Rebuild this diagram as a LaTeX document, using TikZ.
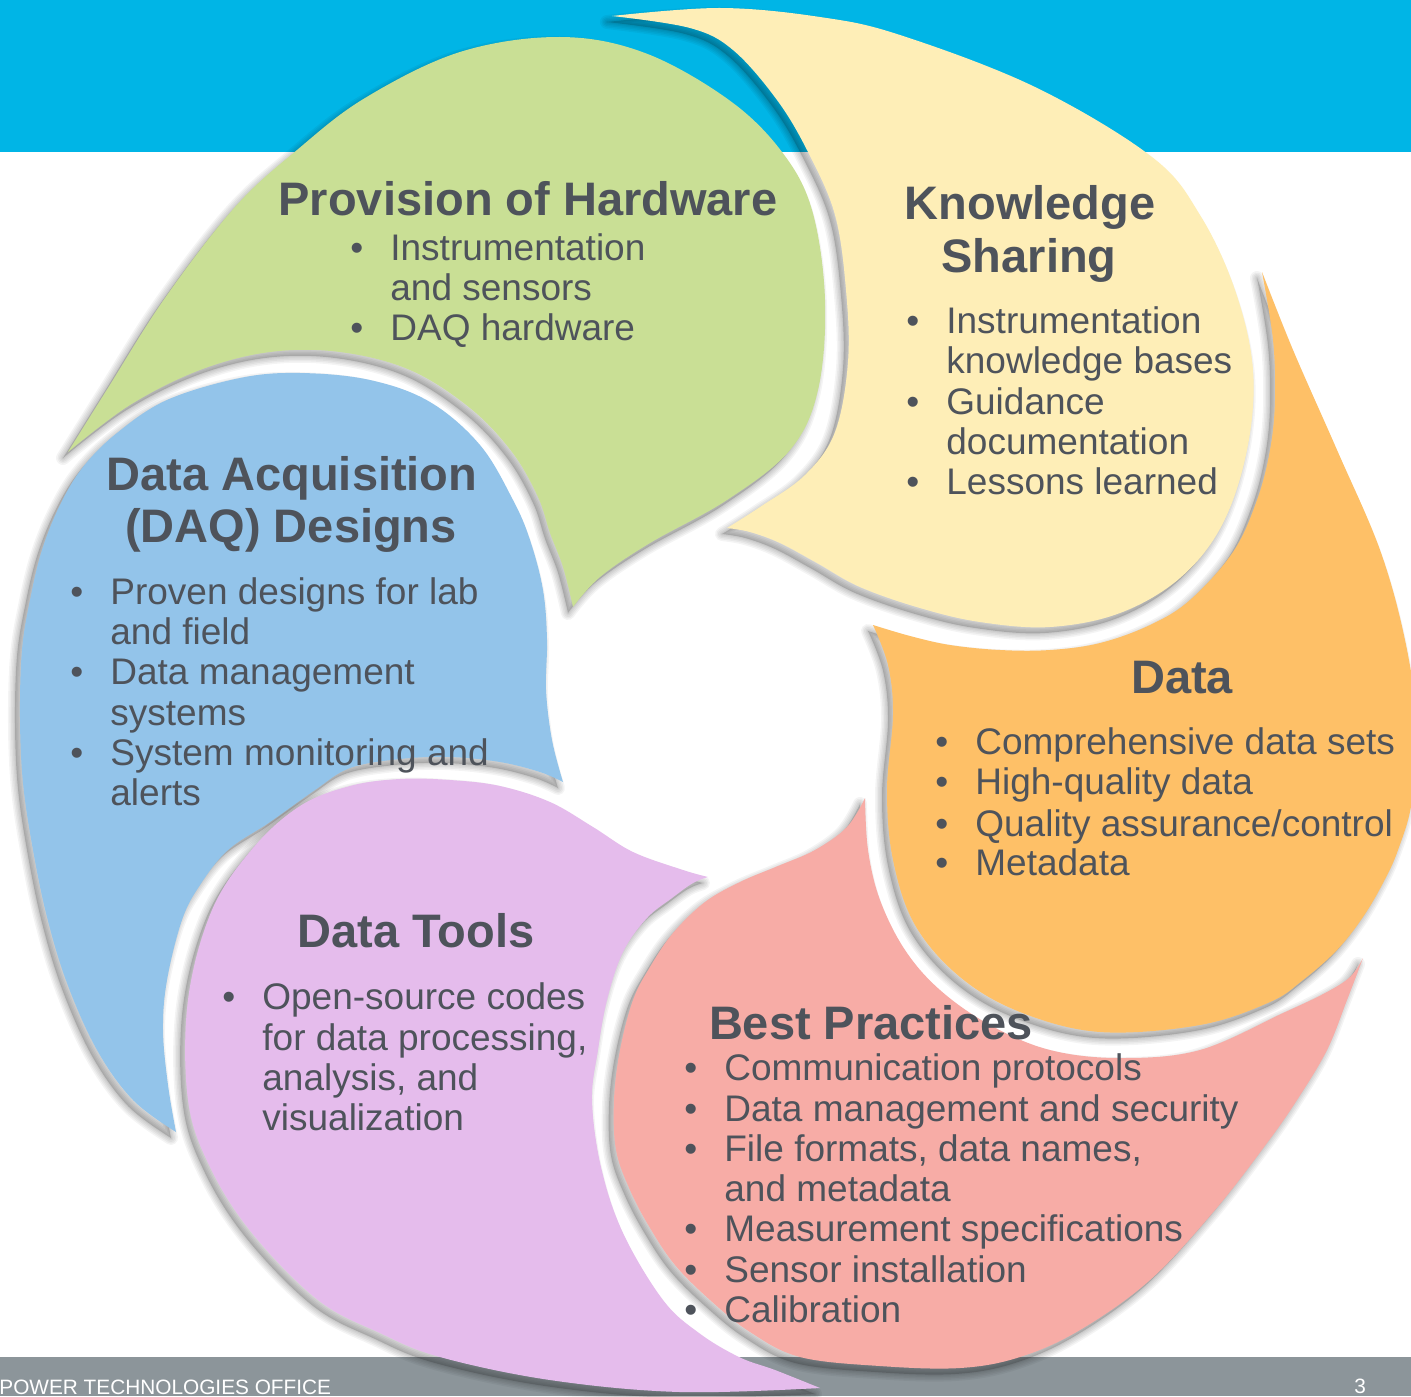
\documentclass[tikz,border=0pt]{standalone}
\usepackage{fontspec}
\setmainfont{Liberation Sans}
\definecolor{band}{HTML}{00B5E6}
\definecolor{foot}{HTML}{8C959A}
\definecolor{cgreen}{HTML}{C9DF95}
\definecolor{cyellow}{HTML}{FEEEB7}
\definecolor{corange}{HTML}{FEC067}
\definecolor{cpink}{HTML}{F7ACA6}
\definecolor{cpurple}{HTML}{E5BCEC}
\definecolor{cblue}{HTML}{93C4EA}
\definecolor{tcol}{HTML}{4E535B}
\newcommand\pGreen{plot[smooth,tension=0.6] coordinates {(68,452) (108,388) (165,298) (235,207) (297,150) (365,98) (460,52) (560,37) (645,53) (729,100) (782,152) (812,210) (825,300) (818,390) (790,450) (727,500) (650,543) (600,577) (573,607)} -- plot[smooth,tension=0.6] coordinates {(573,607) (563,567) (550,533) (538,497) (512,452) (470,408) (410,370) (340,352) (270,352) (200,370) (130,405) (68,452)} -- cycle}
\newcommand\pYellow{plot[smooth,tension=0.6] coordinates {(612,16) (720,8) (820,17) (900,35) (1035,87) (1152,157) (1200,215) (1235,290) (1253,370) (1247,450) (1222,525) (1180,578) (1120,613) (1050,627) (980,622) (920,608) (860,587) (817,563) (780,543) (750,532) (727,528)} -- plot[smooth,tension=0.6] coordinates {(727,528) (760,507) (805,475) (835,432) (848,362) (846,290) (835,215) (808,152) (777,100) (733,50) (690,28) (612,16)} -- cycle}
\newcommand\pOrange{plot[smooth,tension=0.6] coordinates {(1262,272) (1293,350) (1337,450) (1380,550) (1405,640) (1416,720) (1412,800) (1398,850) (1383,883) (1363,917) (1337,950) (1303,980) (1270,1002) (1200,1025) (1100,1032) (1020,1012) (960,977) (915,925) (893,860) (887,790) (893,715) (888,665) (873,625)} -- plot[smooth,tension=0.6] coordinates {(873,625) (910,636) (950,645) (1000,650) (1050,650) (1100,643) (1150,625) (1190,600) (1233,552) (1257,500) (1270,450) (1275,400) (1273,340) (1262,272)} -- cycle}
\newcommand\pPink{plot[smooth,tension=0.6] coordinates {(1363,958) (1347,1000) (1327,1050) (1297,1100) (1267,1143) (1215,1210) (1150,1280) (1080,1330) (1020,1357) (960,1368) (880,1366) (800,1357) (750,1332) (710,1300) (675,1265) (650,1228) (630,1190) (616,1150) (614,1100) (620,1050) (633,1000) (650,967) (673,933) (705,902) (740,882) (778,866) (815,850) (847,827) (865,798)} -- plot[smooth,tension=0.6] coordinates {(865,798) (868,850) (880,900) (905,950) (940,990) (990,1025) (1050,1050) (1120,1058) (1200,1050) (1283,1013) (1325,993) (1350,977) (1363,958)} -- cycle}
\newcommand\pPurple{plot[smooth,tension=0.6] coordinates {(708,877) (683,870) (633,852) (593,827) (550,802) (500,786) (450,780) (400,779) (350,786) (300,806) (253,848) (212,910) (188,1000) (188,1100) (210,1167) (252,1233) (318,1300) (380,1333) (440,1357) (550,1380) (680,1392) (820,1388)} -- plot[smooth,tension=0.6] coordinates {(820,1388) (775,1370) (739,1357) (699,1333) (663,1300) (623,1233) (601,1167) (592,1100) (598,1050) (607,1000) (623,952) (647,918) (672,898) (693,883) (708,877)} -- cycle}
\newcommand\pBlue{plot[smooth,tension=0.6] coordinates {(176,1132) (133,1100) (97,1050) (67,983) (47,917) (33,850) (23,783) (20,717) (22,650) (30,600) (42,550) (60,505) (83,467) (117,433) (167,400) (240,378) (300,373) (370,380) (430,402) (480,445) (513,500) (530,540) (543,590) (547,640) (546,690) (552,740) (563,782)} -- plot[smooth,tension=0.6] coordinates {(563,782) (540,772) (500,762) (450,757) (400,759) (350,768) (315,790) (270,822) (228,850) (200,885) (182,920) (167,980) (163,1030) (168,1085) (176,1132)} -- cycle}
\newcommand\shadowof[1]{%
  \foreach \w in {7,5.5,4,2.5,1.2}{\draw[black, opacity=0.045, line width=\w pt, line join=round] #1;}
  \fill[black, opacity=0.16] #1;}
\newcommand\itm[4]{\node[txt] (#1) at (#2,#3) {\makebox[20pt][l]{•}#4};}
\newcommand\cnt[4]{\node[txt] (#1) at (#2,#3) {#4};}
\begin{document}
\begin{tikzpicture}[x=0.5pt,y=-0.5pt,
  txt/.style={anchor=base west, inner sep=0pt, text=tcol, font=\fontsize{18.5pt}{20pt}\selectfont},
  ttl/.style={anchor=base, inner sep=0pt, text=tcol, font=\bfseries\fontsize{23.5pt}{26pt}\selectfont},
  foottxt/.style={anchor=base west, inner sep=0pt, text=white, font=\fontsize{10.4pt}{12pt}\selectfont}]
\useasboundingbox (0,0) rectangle (1411,1396);
\clip (0,0) rectangle (1411,1396);
\fill[white] (0,0) rectangle (1411,1396);
\fill[band] (0,0) rectangle (1411,152);
\fill[foot] (0,1357) rectangle (1411,1396);
% shadows
\begin{scope}[shift={(-5,6)}]
  \shadowof{\pGreen}
  \shadowof{\pYellow}
  \shadowof{\pOrange}
  \shadowof{\pPink}
  \shadowof{\pPurple}
  \shadowof{\pBlue}
\end{scope}
% petals
\fill[cgreen] \pGreen;
\fill[cyellow] \pYellow;
\fill[corange] \pOrange;
\fill[cpink] \pPink;
\fill[cpurple] \pPurple;
\fill[cblue] \pBlue;
% Provision of Hardware
\node[ttl] (gt) at (528,215) {Provision of Hardware};
\itm{g1}{350}{260}{Instrumentation}
\cnt{g2}{390}{300}{and sensors}
\itm{g3}{350}{340}{DAQ hardware}
% Knowledge Sharing
\node[ttl] (yt1) at (1030,220) {Knowledge};
\node[ttl] (yt2) at (1029,272) {Sharing};
\itm{y1}{906}{333}{Instrumentation}
\cnt{y2}{946}{373}{knowledge bases}
\itm{y3}{906}{414}{Guidance}
\cnt{y4}{946}{454}{documentation}
\itm{y5}{906}{494}{Lessons learned}
% Data
\node[ttl] (ot) at (1182,693) {Data};
\itm{o1}{935}{754}{Comprehensive data sets}
\itm{o2}{935}{794}{High-quality data}
\itm{o3}{935}{836}{Quality assurance/control}
\itm{o4}{935}{875}{Metadata}
% Best Practices
\node[ttl] (pt) at (871,1039) {Best Practices};
\itm{p1}{684}{1080}{Communication protocols}
\itm{p2}{684}{1121}{Data management and security}
\itm{p3}{684}{1161}{File formats, data names,}
\cnt{p4}{724}{1201}{and metadata}
\itm{p5}{684}{1241}{Measurement specifications}
\itm{p6}{684}{1282}{Sensor installation}
\itm{p7}{684}{1322}{Calibration}
% Data Tools
\node[ttl] (ut) at (416,947) {Data Tools};
\itm{u1}{222}{1009}{Open-source codes}
\cnt{u2}{262}{1050}{for data processing,}
\cnt{u3}{262}{1090}{analysis, and}
\cnt{u4}{262}{1130}{visualization}
% DAQ Designs
\node[ttl] (bt1) at (292,490) {Data Acquisition};
\node[ttl] (bt2) at (291,542) {(DAQ) Designs};
\itm{b1}{70}{604}{Proven designs for lab}
\cnt{b2}{110}{644}{and field}
\itm{b3}{70}{684}{Data management}
\cnt{b4}{110}{725}{systems}
\itm{b5}{70}{765}{System monitoring and}
\cnt{b6}{110}{805}{alerts}
% footer
\node[foottxt] (ft) at (-1,1394) {POWER TECHNOLOGIES OFFICE};
\node[foottxt] (pg) at (1354,1393) {3};
\end{tikzpicture}
\end{document}
